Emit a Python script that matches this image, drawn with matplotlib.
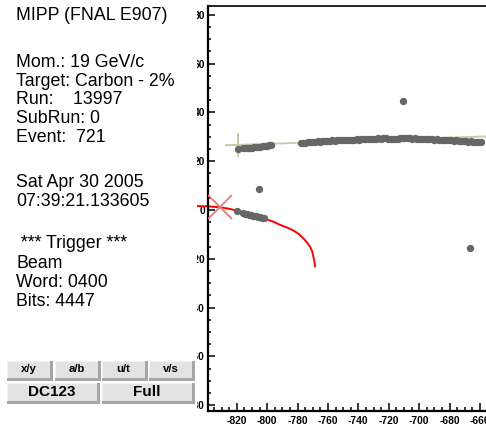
import matplotlib
matplotlib.use("Agg")
import matplotlib.pyplot as plt
from matplotlib.patches import Rectangle
from matplotlib.ticker import MultipleLocator

plt.rcParams["font.family"] = ["Liberation Sans", "DejaVu Sans"]
plt.rcParams["axes.unicode_minus"] = False

# ---- event display data (x in cm along beam, y in cm) ----
upper_x = [-819.2, -815.6, -814.2, -812.8, -811.4, -810.0, -808.6, -807.2, -805.8,
           -804.4, -803.0, -801.6, -800.2, -798.8, -797.4,
           -777.9, -776.3, -774.8, -773.2, -771.6, -770.0, -768.4, -766.8, -765.2,
           -763.6, -762.0, -760.4, -758.8, -757.2, -755.6, -754.0, -752.4, -750.8,
           -749.2, -747.6, -746.0, -744.4, -742.8, -741.2, -739.6, -738.0, -736.4,
           -734.8, -733.2, -731.6, -730.0, -728.4, -726.8, -725.2, -723.6, -722.0,
           -720.4, -718.8, -717.2, -715.6, -714.0, -712.4, -710.8, -709.2, -707.6,
           -706.0, -704.4, -702.8, -701.2, -699.6, -698.0, -696.4, -694.8, -693.2,
           -691.6, -690.0, -688.4, -686.8, -685.2, -683.6, -682.0, -680.4, -678.8,
           -677.2, -675.6, -674.0, -672.4, -670.8, -669.2, -667.6, -666.0, -664.4,
           -662.8, -661.2, -659.3]
upper_y = [24.9, 25.2, 25.3, 25.4, 25.5, 25.6, 25.7, 25.8, 25.9,
           26.0, 26.1, 26.3, 26.4, 26.6, 26.8,
           27.5, 27.6, 27.6, 27.8, 27.9, 27.9, 28.0, 28.1, 28.0,
           28.2, 28.3, 28.2, 28.4, 28.5, 28.4, 28.5, 28.6, 28.5,
           28.6, 28.7, 28.6, 28.8, 28.7, 28.9, 28.8, 28.9, 29.0,
           28.9, 29.1, 29.0, 29.2, 29.1, 29.3, 29.2, 29.4, 29.3,
           29.2, 29.1, 29.0, 29.1, 29.2, 29.3, 29.4, 29.3, 29.4,
           29.3, 29.2, 29.3, 29.2, 29.1, 29.2, 29.0, 29.1, 28.9,
           29.0, 28.8, 28.9, 28.7, 28.8, 28.6, 28.7, 28.5, 28.6,
           28.4, 28.5, 28.3, 28.2, 28.3, 28.1, 28.0, 28.2, 28.0,
           27.9, 28.0, 27.9]

lower_x = [-820.0, -816.0, -814.6, -813.2, -811.8, -810.4, -809.0, -807.6,
           -806.2, -804.8, -803.4, -802.0]
lower_y = [-0.4, -1.3, -1.5, -1.7, -1.9, -2.1, -2.3, -2.5, -2.7, -2.9, -3.1, -3.3]

stray_x = [-805.1, -710.8, -666.5]
stray_y = [8.4, 44.6, -15.6]

# straight-line fit through the upper track
fit_x = [-827.1, -640.0]
fit_y = [26.5, 30.5]
fit_vertex = (-819.2, 26.5)

# curved (magnetic) track through the lower hits
curve_x = [-846.8, -840.0, -831.0, -825.0, -820.0, -813.0, -806.0, -801.4, -796.0,
           -791.5, -787.0, -782.8, -779.0, -776.2, -773.8, -771.8, -770.4, -769.6,
           -768.9, -768.5]
curve_y = [1.6, 1.5, 1.1, 0.5, -0.3, -1.6, -2.8, -3.6, -4.8,
           -6.1, -7.2, -8.4, -9.9, -11.6, -13.3, -15.0, -16.9, -19.1,
           -21.1, -23.1]
curve_vertex = (-831.0, 1.1)

info_lines = [
    ("MIPP (FNAL E907)", 20.5),
    ("Mom.: 19 GeV/c", 67),
    ("Target: Carbon - 2%", 86),
    ("Run:    13997", 104.5),
    ("SubRun: 0", 123),
    ("Event:  721", 141.5),
    ("Sat Apr 30 2005", 187),
    ("07:39:21.133605", 205.5),
    (" *** Trigger ***", 248.5),
    ("Beam", 268),
    ("Word: 0400", 287),
    ("Bits: 4447", 306),
]

buttons = [
    ("x/y", 7, 361, 46, 20, 8.2),
    ("a/b", 55, 361, 46, 20, 8.2),
    ("u/t", 102, 361, 46, 20, 8.2),
    ("v/s", 149, 361, 46, 20, 8.2),
    ("DC123", 7, 383, 93, 21, 11),
    ("Full", 102, 383, 93, 21, 11),
]

W, H = 486, 428
fig = plt.figure(figsize=(W / 100, H / 100), dpi=100)
fig.patch.set_facecolor("white")

# axes extends past the right edge of the canvas
x_left, x_right = -838.7, -640.0
y_bot, y_top = -82.2, 83.6
px_per_x = 1.52
ax_l = 208.3
ax_r = ax_l + (x_right - x_left) * px_per_x
ax_b = 410.5
ax_t = 6.0
ax = fig.add_axes([ax_l / W, (H - ax_b) / H, (ax_r - ax_l) / W, (ax_b - ax_t) / H])
ax.set_xlim(x_left, x_right)
ax.set_ylim(y_bot, y_top)

for side in ("left", "bottom"):
    ax.spines[side].set_linewidth(1.6)
ax.spines["top"].set_linewidth(1.2)
ax.spines["right"].set_visible(False)

ax.xaxis.set_major_locator(MultipleLocator(20))
ax.xaxis.set_minor_locator(MultipleLocator(5))
ax.yaxis.set_major_locator(MultipleLocator(20))
ax.yaxis.set_minor_locator(MultipleLocator(5))
ax.tick_params(axis="both", which="both", direction="in", width=1.1, color="black")
ax.tick_params(axis="x", which="major", length=6, pad=4)
ax.tick_params(axis="x", which="minor", length=3)
ax.tick_params(axis="y", which="major", length=5, pad=2.5)
ax.tick_params(axis="y", which="minor", length=2.5)
for lab in ax.get_xticklabels() + ax.get_yticklabels():
    lab.set_fontweight("bold")
    lab.set_fontsize(7.4)

ax.plot(fit_x, fit_y, color="#cdc6a6", lw=1.3, zorder=2)
ax.plot(*fit_vertex, marker="+", ms=17, mew=1.4, color="#cdc6a6", zorder=2)
ax.plot(curve_x, curve_y, color="#ff0000", lw=1.4, zorder=2.5, clip_on=False)
ax.plot(*curve_vertex, marker="x", ms=17.5, mew=1.3, color="#e37d7d", zorder=2.6)

dot = dict(ls="none", marker="o", ms=5.3, mew=0, color="#666666", zorder=3)
ax.plot(upper_x, upper_y, **dot)
ax.plot(lower_x, lower_y, **dot)
ax.plot(stray_x, stray_y, **dot)


def fx(px):
    return px / W


def fy(py):
    return 1 - py / H


# left information panel
fig.add_artist(Rectangle((0, 0), fx(196.5), 1, transform=fig.transFigure,
                         facecolor="white", edgecolor="none", zorder=10))
for text, base in info_lines:
    fig.text(fx(16), fy(base), text, fontsize=12.8, va="baseline", ha="left",
             color="black", zorder=11)

for label, bx, by, bw, bh, fs in buttons:
    # shadow
    fig.add_artist(Rectangle((fx(bx), fy(by + bh)), bw / W, bh / H,
                             transform=fig.transFigure, facecolor="#a6a6a6",
                             edgecolor="none", zorder=11))
    # highlight
    fig.add_artist(Rectangle((fx(bx), fy(by + bh - 3)), (bw - 3) / W, (bh - 3) / H,
                             transform=fig.transFigure, facecolor="#f2f2f2",
                             edgecolor="none", zorder=12))
    # face
    fig.add_artist(Rectangle((fx(bx + 1), fy(by + bh - 3)), (bw - 4) / W, (bh - 4) / H,
                             transform=fig.transFigure, facecolor="#e3e3e3",
                             edgecolor="none", zorder=13))
    fig.text(fx(bx + (bw - 3) / 2), fy(by + (bh - 3) / 2), label, fontsize=fs,
             fontweight="bold", ha="center", va="center", color="black", zorder=14)

fig.savefig("out.png", dpi=100, facecolor="white")
